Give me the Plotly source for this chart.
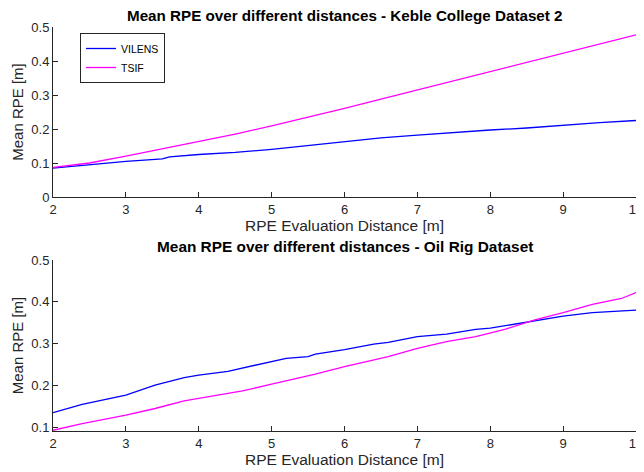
import plotly.graph_objects as go

# Keble College Dataset 2
x_top = [2, 2.5, 3, 3.5, 3.6, 4, 4.5, 5, 5.5, 6, 6.5, 7, 7.5, 8, 8.5, 9, 9.5, 10]
vilens_top = [0.085, 0.095, 0.105, 0.112, 0.118, 0.125, 0.131, 0.140, 0.151, 0.164,
              0.174, 0.182, 0.190, 0.197, 0.203, 0.212, 0.219, 0.225]
x_top_t = [2, 2.5, 3, 3.5, 4, 4.5, 5, 5.5, 6, 6.5, 7, 7.5, 8, 8.5, 9, 9.5, 10]
tsif_top = [0.087, 0.100, 0.120, 0.141, 0.163, 0.185, 0.209, 0.234, 0.261, 0.288,
            0.315, 0.343, 0.371, 0.397, 0.425, 0.451, 0.477]

# Oil Rig Dataset
x_bot_v = [2, 2.4, 3, 3.4, 3.8, 4, 4.4, 5, 5.2, 5.5, 5.6, 6, 6.4, 6.6, 7, 7.4, 7.8,
           8, 8.4, 8.6, 9, 9.4, 9.8, 10]
vilens_bot = [0.135, 0.155, 0.177, 0.201, 0.219, 0.225, 0.234, 0.257, 0.265, 0.269,
              0.275, 0.286, 0.299, 0.303, 0.317, 0.323, 0.334, 0.337, 0.349, 0.354,
              0.366, 0.374, 0.377, 0.380]
x_bot_t = [2, 2.4, 3, 3.4, 3.8, 4.4, 4.6, 5, 5.6, 6, 6.6, 7, 7.4, 7.8, 8.2, 8.6, 9,
           9.4, 9.8, 10]
tsif_bot = [0.093, 0.109, 0.129, 0.145, 0.163, 0.181, 0.187, 0.203, 0.227, 0.245,
            0.269, 0.289, 0.305, 0.317, 0.334, 0.356, 0.374, 0.394, 0.408, 0.422]

x_ticks = [2, 3, 4, 5, 6, 7, 8, 9, 10]
y_ticks_top = [0, 0.1, 0.2, 0.3, 0.4, 0.5]
y_ticks_bot = [0.1, 0.2, 0.3, 0.4, 0.5]

BLUE = "#0000ff"
MAG = "#ff00ff"
AX = "#262626"
FONT = "Liberation Sans, Arial, sans-serif"

fig = go.Figure()
fig.add_trace(go.Scatter(x=x_top, y=vilens_top, mode="lines", name="VILENS",
                         line=dict(color=BLUE, width=1.3), xaxis="x", yaxis="y"))
fig.add_trace(go.Scatter(x=x_top_t, y=tsif_top, mode="lines", name="TSIF",
                         line=dict(color=MAG, width=1.3), xaxis="x", yaxis="y"))
fig.add_trace(go.Scatter(x=x_bot_v, y=vilens_bot, mode="lines", name="VILENS",
                         line=dict(color=BLUE, width=1.3), xaxis="x2", yaxis="y2",
                         showlegend=False))
fig.add_trace(go.Scatter(x=x_bot_t, y=tsif_bot, mode="lines", name="TSIF",
                         line=dict(color=MAG, width=1.3), xaxis="x2", yaxis="y2",
                         showlegend=False))

# page body has an 8px margin: figure is drawn 8px in from the window's corner
O = 8
W, H = 644 - O, 472 - O
ML, MR, MT, MB = 53 - O, W - (636 - O), 27 - O, H - (431 - O)
PW = W - ML - MR
PH = H - MT - MB
yd_top = [(431 - 197) / PH, 1]
yd_bot = [0, (431 - 260) / PH]

common_x = dict(range=[2, 10], tickvals=x_ticks, ticks="inside", ticklen=5,
                tickcolor=AX, showline=True, linecolor=AX, linewidth=1,
                showgrid=False, zeroline=False, tickfont=dict(size=13, color=AX),
                automargin=False,
                title=dict(text="RPE Evaluation Distance [m]",
                           font=dict(size=15.5, color=AX), standoff=3))
common_y = dict(ticks="inside", ticklen=5, tickcolor=AX, showline=True, linecolor=AX,
                linewidth=1, showgrid=False, zeroline=False, automargin=False,
                tickfont=dict(size=13, color=AX),
                title=dict(text="Mean RPE [m]", font=dict(size=15, color=AX), standoff=4))

fig.update_layout(
    width=W, height=H,
    margin=dict(l=ML, r=MR, t=MT, b=MB),
    paper_bgcolor="white", plot_bgcolor="white",
    font=dict(family=FONT, color=AX),
    xaxis=dict(anchor="y", **common_x),
    yaxis=dict(domain=yd_top, anchor="x", range=[0, 0.5], tickvals=y_ticks_top,
               ticktext=["0", "0.1", "0.2", "0.3", "0.4", "0.5"], **common_y),
    xaxis2=dict(anchor="y2", **common_x),
    yaxis2=dict(domain=yd_bot, anchor="x2", range=[0.0912, 0.5], tickvals=y_ticks_bot,
                **common_y),
    legend=dict(x=(80 - 53) / PW, y=1 - (33 - 27) / PH,
                xanchor="left", yanchor="top",
                bgcolor="white", bordercolor=AX, borderwidth=1,
                font=dict(size=10.5, color="black"), itemwidth=30,
                tracegroupgap=0),
    showlegend=True,
    annotations=[
        dict(text="<b>Mean RPE over different distances - Keble College Dataset 2</b>",
             x=0.5, y=1 + (27 - 16) / PH, xref="paper", yref="paper",
             showarrow=False, font=dict(size=15.2, color="black"), yanchor="middle"),
        dict(text="<b>Mean RPE over different distances - Oil Rig Dataset</b>",
             x=0.5, y=(431 - 246) / PH, xref="paper", yref="paper",
             showarrow=False, font=dict(size=15.4, color="black"), yanchor="middle"),
    ],
)

fig.write_html("out.html")
